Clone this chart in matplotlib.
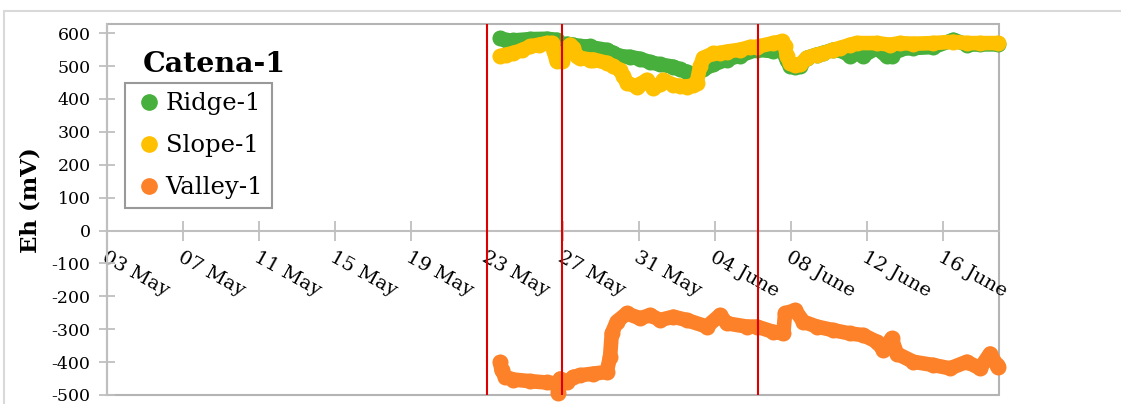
import matplotlib
matplotlib.use("Agg")
import matplotlib.pyplot as plt
from matplotlib.lines import Line2D
from matplotlib.patches import Rectangle

# days counted from 03 May
ridge_day = [20.67, 21.0, 21.37, 22.25, 23.12, 23.65, 23.91, 24.18, 24.53, 24.88, 25.4, 25.58,
             26.28, 26.63, 26.98, 27.5, 28.04, 28.56, 29.09, 29.79, 30.14, 30.49, 30.84, 31.02,
             31.37, 31.9, 32.6, 33.3, 34.18, 35.05, 35.49, 35.76, 35.93, 36.2, 36.46, 36.81,
             37.34, 37.69, 38.21, 38.74, 39.09, 39.44, 39.79, 40.49, 41.02, 41.28, 41.72, 42.42,
             43.48, 44.53, 45.23, 45.93, 46.9]
ridge_eh = [585, 578, 578, 582, 583, 580, 565, 568, 565, 560, 560, 556,
            549, 540, 530, 528, 522, 512, 505, 498, 490, 483, 470, 480,
            490, 505, 520, 532, 550, 545, 550, 520, 500, 498, 500, 525,
            535, 540, 550, 545, 530, 540, 532, 555, 530, 532, 552, 555,
            558, 580, 565, 566, 566]

slope_day = [20.67, 21.0, 21.37, 21.8, 22.25, 22.7, 23.12, 23.39, 23.5, 23.65, 23.91, 24.1,
             24.35, 24.53, 24.7, 24.88, 25.4, 25.58, 26.28, 26.63, 26.98, 27.16, 27.34, 27.86,
             28.04, 28.39, 28.74, 29.09, 29.26, 29.79, 30.14, 30.49, 30.84, 31.02, 31.2, 31.37,
             31.9, 32.25, 32.6, 33.3, 33.83, 34.18, 35.05, 35.49, 35.67, 35.76, 35.93, 36.2,
             36.46, 36.81, 37.34, 37.69, 38.21, 38.56, 39.09, 39.44, 40.49, 41.19, 41.72, 42.42,
             43.48, 44.53, 45.23, 45.93, 46.9]
slope_eh = [530, 535, 540, 548, 560, 565, 570, 570, 545, 515, 515, 540,
            565, 555, 530, 525, 520, 520, 510, 500, 488, 470, 450, 437,
            445, 458, 432, 445, 458, 443, 440, 437, 443, 450, 500, 525,
            539, 540, 544, 550, 558, 559, 570, 575, 560, 530, 510, 503,
            505, 525, 535, 539, 550, 555, 565, 570, 570, 565, 570, 568,
            570, 574, 570, 570, 570]

valley_day = [20.67, 20.75, 20.95, 21.37, 22.25, 23.12, 23.65, 23.74, 23.83, 24.18, 24.53, 24.88,
              25.58, 26.28, 26.46, 26.55, 26.81, 27.34, 28.04, 28.56, 29.09, 29.79, 30.49, 31.55,
              32.25, 32.6, 33.65, 34.18, 35.05, 35.58, 35.67, 36.2, 36.63, 37.34, 38.21, 39.09,
              39.79, 40.49, 40.84, 41.28, 41.55, 42.42, 43.48, 44.35, 45.23, 45.93, 46.46, 46.81,
              46.9]
valley_eh = [-400, -425, -445, -453, -458, -462, -465, -495, -450, -462, -445, -440,
             -435, -430, -384, -313, -277, -252, -267, -257, -272, -262, -272, -292,
             -257, -282, -292, -292, -308, -313, -252, -242, -277, -292, -303, -313,
             -318, -338, -363, -328, -374, -399, -409, -419, -399, -419, -374, -409,
             -414]

tick_days = [0, 4, 8, 12, 16, 20, 24, 28, 32, 36, 40, 44]
tick_labels = ["03 May", "07 May", "11 May", "15 May", "19 May", "23 May", "27 May",
               "31 May", "04 June", "08 June", "12 June", "16 June"]
event_days = [20.0, 23.93, 34.23]

series = ["Ridge-1", "Slope-1", "Valley-1"]
colors = ["#47AF3C", "#FFC000", "#FD8128"]

plt.rcParams["font.family"] = ["DejaVu Serif"]
plt.rcParams["axes.unicode_minus"] = False

fig = plt.figure(figsize=(11.21, 4.04), dpi=100)
ax = fig.add_axes([0.0957, 0.0223, 0.7955, 0.9183])

for s in ["top", "right"]:
    ax.spines[s].set_visible(False)
ax.spines["bottom"].set_position(("data", 0))
ax.spines["bottom"].set_color("#BFBFBF")
ax.spines["bottom"].set_linewidth(1.5)
ax.spines["left"].set_color("#BFBFBF")
ax.spines["left"].set_linewidth(1.5)
ax.add_patch(Rectangle((0, 0), 1, 1, transform=ax.transAxes, fill=False,
                       edgecolor="#B4B4B4", lw=1.5, zorder=1, clip_on=False))

for d, v, c in zip([ridge_day, slope_day, valley_day], [ridge_eh, slope_eh, valley_eh], colors):
    ax.plot(d, v, color=c, lw=10.5, marker="o", ms=10.5, solid_capstyle="round",
            solid_joinstyle="round", clip_on=False, zorder=3)

for e in event_days:
    ax.axvline(e, color="#DD0000", lw=1.5, zorder=5)

ax.set_xlim(0, 46.93)
ax.set_ylim(-500, 628)
ax.set_yticks(range(-500, 601, 100))
ax.set_xticks(tick_days)
ax.tick_params(axis="y", labelsize=12.5, direction="inout", length=12,
               width=1.3, color="#BFBFBF", pad=6)
ax.tick_params(axis="x", direction="inout", length=14, width=1.3,
               color="#BFBFBF", pad=6)
ax.set_xticklabels(tick_labels, rotation=-29, ha="left", va="top",
                   rotation_mode="anchor", fontsize=14)

ax.set_ylabel("Eh (mV)", fontsize=16.5, fontweight="bold")
ax.yaxis.set_label_coords(-0.074, 0.526)

handles = [Line2D([], [], ls="none", marker="o", ms=11, color=c) for c in colors]
leg = ax.legend(handles, series, loc="upper left", bbox_to_anchor=(0.0199, 0.84),
                borderaxespad=0, fancybox=False, fontsize=17.5, labelspacing=0.78,
                handlelength=1.23, handletextpad=0.07, borderpad=0.37)
leg.get_frame().set_edgecolor("#808080")
leg.get_frame().set_linewidth(1.5)

fig.text(143 / 1121, 1 - 71.7 / 404, "Catena-1", fontsize=20.5, fontweight="bold",
         va="baseline", ha="left")

fig.add_artist(Rectangle((4 / 1121, -0.1), 1.2, (404 - 11) / 404 + 0.1,
                         transform=fig.transFigure, fill=False,
                         edgecolor="#D9D9D9", lw=1.5))

fig.savefig("out.png", dpi=100)
